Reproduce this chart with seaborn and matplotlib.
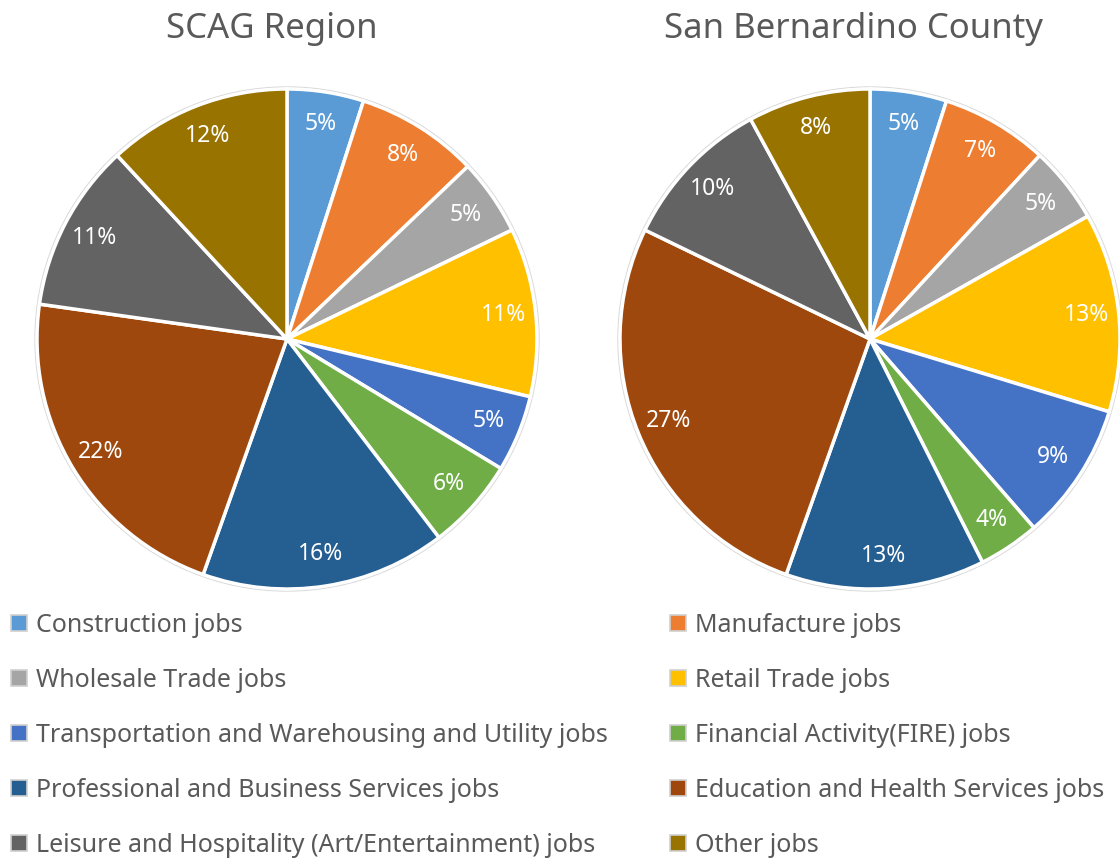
import matplotlib
matplotlib.use("Agg")
import matplotlib.pyplot as plt
import seaborn as sns
from matplotlib.lines import Line2D
from matplotlib.patches import Circle

sns.set_theme(style="white")
plt.rcParams["font.family"] = ["Noto Sans", "DejaVu Sans"]

# job categories (same order for both pies, clockwise from 12 o'clock)
categories = [
    "Construction jobs",
    "Manufacture jobs",
    "Wholesale Trade jobs",
    "Retail Trade jobs",
    "Transportation and Warehousing and Utility jobs",
    "Financial Activity(FIRE) jobs",
    "Professional and Business Services jobs",
    "Education and Health Services jobs",
    "Leisure and Hospitality (Art/Entertainment) jobs",
    "Other jobs",
]
scag_pct = [5, 8, 5, 11, 5, 6, 16, 22, 11, 12]
sb_pct = [5, 7, 5, 13, 9, 4, 13, 27, 10, 8]
titles = ["SCAG Region", "San Bernardino County"]

colors = sns.color_palette(["#5B9BD5", "#ED7D31", "#A5A5A5", "#FFC000", "#4472C4",
                            "#70AD47", "#255E91", "#9E480E", "#636363", "#997300"])
text_gray = "#595959"

W, H = 1120, 858
fig = plt.figure(figsize=(W / 100, H / 100), dpi=100)


def px_axes(left, top, w, h):
    return fig.add_axes([left / W, 1 - (top + h) / H, w / W, h / H])


def draw_pie(ax, vals):
    total = sum(vals)
    ax.pie(vals, colors=colors, startangle=90, counterclock=False,
           autopct=lambda p: f"{p * total / 100:.0f}%", pctdistance=0.87,
           wedgeprops=dict(edgecolor="white", linewidth=2.5),
           textprops=dict(color="white", fontsize=16.5), radius=1.0)
    ax.add_patch(Circle((0, 0), 1.008, fill=False, edgecolor="#d9d9d9", lw=1, zorder=0))
    ax.set_xlim(-1.02, 1.02)
    ax.set_ylim(-1.02, 1.02)
    ax.set_aspect("equal")
    ax.axis("off")


ax1 = px_axes(32, 84, 510, 510)
draw_pie(ax1, scag_pct)
ax2 = px_axes(615, 84, 510, 510)
draw_pie(ax2, sb_pct)

fig.text(272 / W, 1 - 29 / H, titles[0], ha="center", va="center", fontsize=25, color=text_gray)
fig.text(853 / W, 1 - 29 / H, titles[1], ha="center", va="center", fontsize=25, color=text_gray)

# legend: two columns filled row by row
def handle(c):
    return Line2D([], [], marker="s", linestyle="none", markersize=12,
                  markerfacecolor=c, markeredgecolor="#d0d0d0", markeredgewidth=1.2)

left_idx = [0, 2, 4, 6, 8]
right_idx = [1, 3, 5, 7, 9]
for idx, x0 in [(left_idx, 0), (right_idx, 659)]:
    fig.legend([handle(colors[i]) for i in idx], [categories[i] for i in idx],
               loc="upper left", bbox_to_anchor=(x0 / W, 1 - 603 / H),
               frameon=False, fontsize=18, labelcolor=text_gray,
               handlelength=0.75, handletextpad=0.3, labelspacing=1.195,
               borderaxespad=0)

fig.savefig("out.png", dpi=100, facecolor="white")
